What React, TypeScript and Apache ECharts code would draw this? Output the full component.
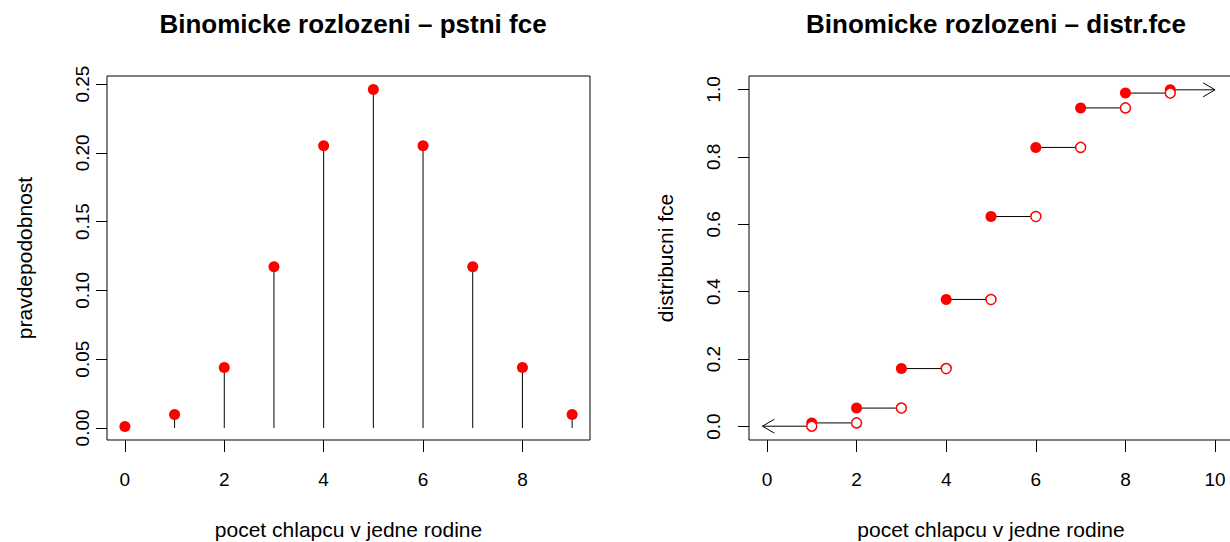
import React, { useEffect, useRef } from "react";
import * as echarts from "echarts";

// Left panel: binomial probabilities
const xVals = [0, 1, 2, 3, 4, 5, 6, 7, 8, 9];
const probs = [0.000977, 0.00977, 0.0439, 0.1172, 0.2051, 0.2461, 0.2051, 0.1172, 0.0439, 0.00977];
const leftXTicks = [0, 2, 4, 6, 8];
const leftYTicks = [0, 0.05, 0.1, 0.15, 0.2, 0.25];

// Right panel: distribution function
const knots = [1, 2, 3, 4, 5, 6, 7, 8, 9];
const cdfVals = [0.000977, 0.0107, 0.0547, 0.1719, 0.377, 0.623, 0.8281, 0.9453, 0.9893, 0.999];
const rightXTicks = [0, 2, 4, 6, 8, 10];
const rightYTicks = [0, 0.2, 0.4, 0.6, 0.8, 1.0];
const arrowLeftEnd = -0.1;
const arrowRightEnd = 10;

const FONT = "Liberation Sans, Arial, Helvetica, sans-serif";

export default function App() {
  const ref = useRef<HTMLDivElement>(null);
  useEffect(() => {
    if (!ref.current) return;
    const chart = echarts.init(ref.current, null, { renderer: "svg" });

    const stemData = xVals.map((x, i) => [x, probs[i]]);
    const filledR = knots.map((k, i) => [k, cdfVals[i + 1]]);
    const openR = knots.map((k, i) => [k, cdfVals[i]]);
    const segs: number[][] = [];
    for (let i = 0; i < knots.length - 1; i++) segs.push([knots[i], knots[i + 1], cdfVals[i + 1]]);
    const arrows = [
      [knots[0], arrowLeftEnd, cdfVals[0]],
      [knots[knots.length - 1], arrowRightEnd, cdfVals[cdfVals.length - 1]],
    ];

    const xAxisCommon = (min: number, max: number, ticks: number[]) => ({
      type: "value",
      min,
      max,
      axisLine: { show: false, onZero: false },
      splitLine: { show: false },
      axisTick: { show: true, length: 12, customValues: ticks, lineStyle: { color: "#000", width: 1 } },
      axisLabel: {
        customValues: ticks,
        formatter: (v: number) => String(v),
        margin: 30,
        color: "#000",
        fontSize: 19,
        fontFamily: FONT,
      },
      name: "pocet chlapcu v jedne rodine",
      nameLocation: "middle",
      nameGap: 79,
      nameTextStyle: { color: "#000", fontSize: 21, fontFamily: FONT },
    });

    const yAxisCommon = (
      min: number,
      max: number,
      ticks: number[],
      dec: number,
      name: string,
      margin: number,
      nameGap: number
    ) => ({
      type: "value",
      min,
      max,
      axisLine: { show: false, onZero: false },
      splitLine: { show: false },
      axisTick: { show: true, length: 11, customValues: ticks, lineStyle: { color: "#000", width: 1 } },
      axisLabel: {
        customValues: ticks,
        formatter: (v: number) => v.toFixed(dec),
        rotate: 90,
        margin,
        color: "#000",
        fontSize: 19,
        fontFamily: FONT,
      },
      name,
      nameLocation: "middle",
      nameGap,
      nameTextStyle: { color: "#000", fontSize: 21, fontFamily: FONT },
    });

    const option = {
      animation: false,
      backgroundColor: "#fff",
      title: [
        {
          text: "Binomicke rozlozeni \u2013 pstni fce",
          left: 348,
          top: 6,
          textAlign: "center",
          textStyle: { fontSize: 26, fontWeight: "bold", color: "#000", fontFamily: FONT },
        },
        {
          text: "Binomicke rozlozeni \u2013 distr.fce",
          left: 991,
          top: 6,
          textAlign: "center",
          textStyle: { fontSize: 26, fontWeight: "bold", color: "#000", fontFamily: FONT },
        },
      ],
      grid: [
        {
          left: 107, top: 76, width: 483, height: 364,
          show: true, borderColor: "#000", borderWidth: 1, backgroundColor: "transparent",
          outerBoundsMode: "none", containLabel: false,
        },
        {
          left: 749, top: 76, width: 484, height: 364,
          show: true, borderColor: "#000", borderWidth: 1, backgroundColor: "transparent",
          outerBoundsMode: "none", containLabel: false,
        },
      ],
      xAxis: [
        { gridIndex: 0, ...xAxisCommon(-0.36, 9.36, leftXTicks) },
        { gridIndex: 1, ...xAxisCommon(-0.4, 10.4, rightXTicks) },
      ],
      yAxis: [
        { gridIndex: 0, ...yAxisCommon(-0.0088, 0.2559, leftYTicks, 2, "pravdepodobnost", 15.5, 72.5) },
        { gridIndex: 1, ...yAxisCommon(-0.04, 1.04, rightYTicks, 1, "distribucni fce", 26, 73.5) },
      ],
      series: [
        {
          type: "custom",
          xAxisIndex: 0,
          yAxisIndex: 0,
          data: stemData,
          renderItem: (params: any, api: any) => {
            const x = api.value(0);
            const y = api.value(1);
            const p1 = api.coord([x, 0]);
            const p2 = api.coord([x, y]);
            return {
              type: "line",
              shape: { x1: p1[0], y1: p1[1], x2: p2[0], y2: p2[1] },
              style: { stroke: "#000", lineWidth: 1 },
            };
          },
          silent: true,
        },
        {
          type: "scatter",
          xAxisIndex: 0,
          yAxisIndex: 0,
          data: stemData,
          symbol: "circle",
          symbolSize: 11,
          itemStyle: { color: "#ff0000", opacity: 1 },
          silent: true,
        },
        {
          type: "custom",
          xAxisIndex: 1,
          yAxisIndex: 1,
          data: segs,
          renderItem: (params: any, api: any) => {
            const p1 = api.coord([api.value(0), api.value(2)]);
            const p2 = api.coord([api.value(1), api.value(2)]);
            return {
              type: "line",
              shape: { x1: p1[0], y1: p1[1], x2: p2[0], y2: p2[1] },
              style: { stroke: "#000", lineWidth: 1 },
            };
          },
          silent: true,
        },
        {
          type: "custom",
          xAxisIndex: 1,
          yAxisIndex: 1,
          data: arrows,
          renderItem: (params: any, api: any) => {
            const p1 = api.coord([api.value(0), api.value(2)]);
            const p2 = api.coord([api.value(1), api.value(2)]);
            const dir = p2[0] > p1[0] ? 1 : -1;
            return {
              type: "group",
              children: [
                {
                  type: "line",
                  shape: { x1: p1[0], y1: p1[1], x2: p2[0], y2: p2[1] },
                  style: { stroke: "#000", lineWidth: 1 },
                },
                {
                  type: "polyline",
                  shape: {
                    points: [
                      [p2[0] - dir * 12, p2[1] - 7],
                      [p2[0], p2[1]],
                      [p2[0] - dir * 12, p2[1] + 7],
                    ],
                  },
                  style: { stroke: "#000", lineWidth: 1, fill: "none" },
                },
              ],
            };
          },
          silent: true,
        },
        {
          type: "scatter",
          xAxisIndex: 1,
          yAxisIndex: 1,
          data: filledR,
          symbol: "circle",
          symbolSize: 11,
          itemStyle: { color: "#ff0000", opacity: 1 },
          silent: true,
        },
        {
          type: "scatter",
          xAxisIndex: 1,
          yAxisIndex: 1,
          data: openR,
          symbol: "circle",
          symbolSize: 10,
          itemStyle: { color: "#fff", borderColor: "#ff0000", borderWidth: 1.5, opacity: 1 },
          silent: true,
        },
      ],
    };

    chart.setOption(option as any);
    return () => chart.dispose();
  }, []);

  return <div ref={ref} style={{ position: "absolute", left: 0, top: 0, width: 1230, height: 542 }} />;
}
